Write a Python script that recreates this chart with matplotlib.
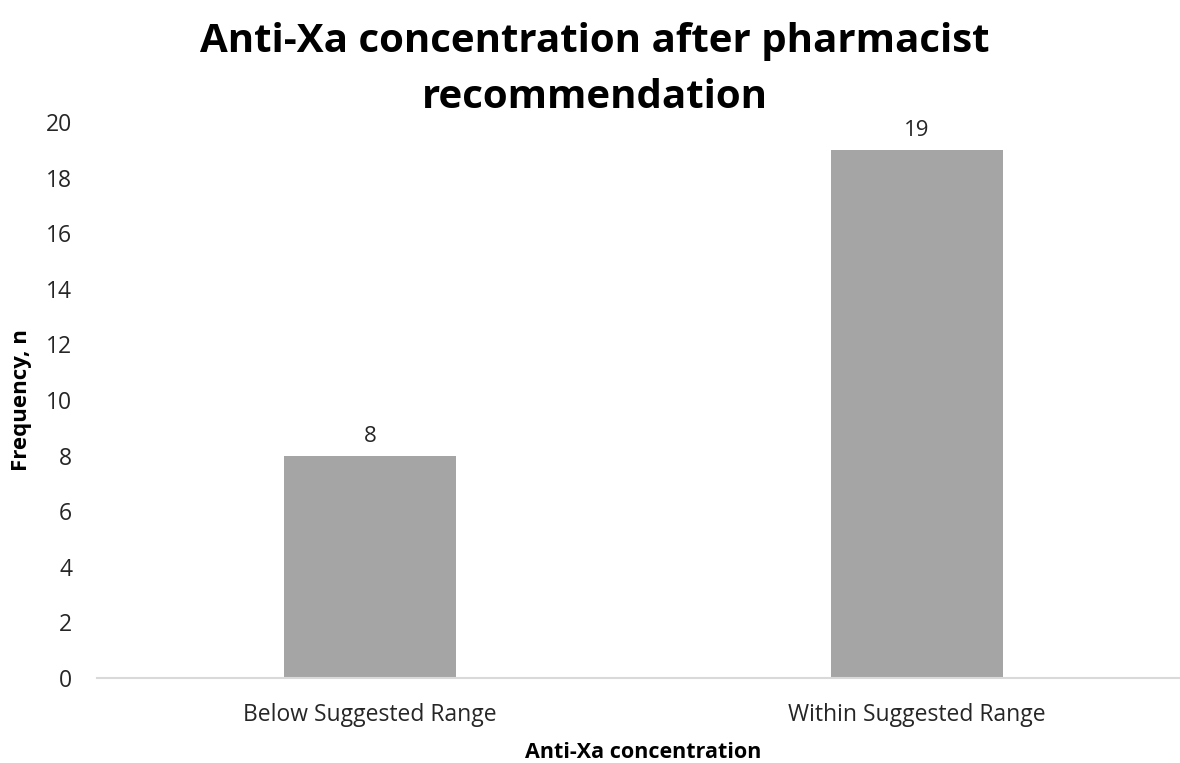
import matplotlib.pyplot as plt

categories = ['Below Suggested Range', 'Within Suggested Range']
counts = [8, 19]
y_ticks = list(range(0, 21, 2))

plt.rcParams['font.family'] = ['Open Sans', 'DejaVu Sans']

fig = plt.figure(figsize=(11.8, 7.63), dpi=100)
ax = fig.add_axes([97 / 1180, 1 - 678 / 763, 1093 / 1180, 556 / 763])

x = range(len(categories))
bars = ax.bar(x, counts, width=0.315, color='#A5A5A5', zorder=2)
for b, v in zip(bars, counts):
    ax.annotate(str(v), (b.get_x() + b.get_width() / 2, v), xytext=(0, 6),
                textcoords='offset points', ha='center', va='bottom',
                fontsize=16, color='#262626')

ax.set_xlim(-0.5, 1.5)
ax.set_ylim(0, 20)
ax.set_yticks(y_ticks)
ax.set_xticks(list(x))
ax.set_xticklabels(categories)
ax.tick_params(axis='both', length=0, labelsize=16.5, colors='#262626')
ax.tick_params(axis='y', pad=18)
ax.tick_params(axis='x', pad=18)

for s in ['top', 'right', 'left']:
    ax.spines[s].set_visible(False)
ax.spines['bottom'].set_color('#D9D9D9')
ax.spines['bottom'].set_linewidth(1.5)

ax.set_ylabel('Frequency, n', fontsize=16, fontweight='bold', color='black')
ax.yaxis.set_label_coords(-0.0595, 0.5)
ax.set_xlabel('Anti-Xa concentration', fontsize=15.5, fontweight='bold', color='black')
ax.xaxis.set_label_coords(0.4995, -0.115)

fig.text(595 / 1180, 1 - 52 / 763, 'Anti-Xa concentration after pharmacist',
         ha='center', va='baseline', fontsize=29, fontweight='bold')
fig.text(595 / 1180, 1 - 108 / 763, 'recommendation',
         ha='center', va='baseline', fontsize=29, fontweight='bold')

fig.savefig('out.png', dpi=100)
